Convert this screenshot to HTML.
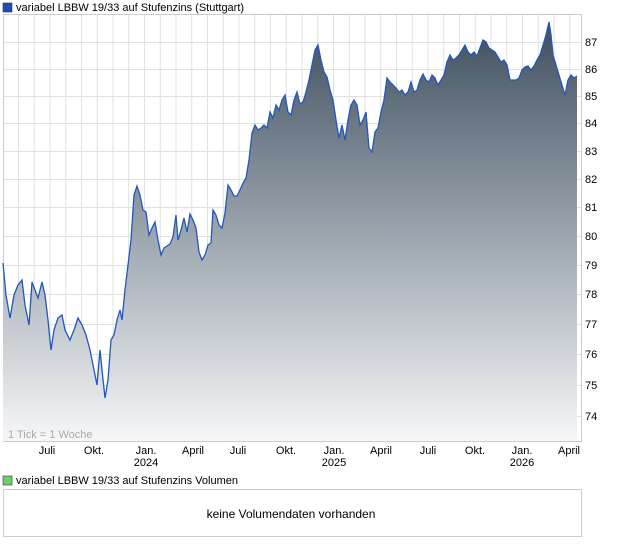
<!DOCTYPE html>
<html><head><meta charset="utf-8"><style>
body{margin:0;background:#fff;font-family:"Liberation Sans",sans-serif;}
svg{position:absolute;left:0;top:0}
</style></head><body>
<svg width="620" height="546" xmlns="http://www.w3.org/2000/svg" font-family="Liberation Sans, sans-serif" font-size="11">
<defs><linearGradient id="g" gradientUnits="userSpaceOnUse" x1="0" y1="20" x2="0" y2="441">
<stop offset="0" stop-color="#3f4e5d"/><stop offset="0.5" stop-color="#9aa4ad"/><stop offset="1" stop-color="#f6f7f8"/></linearGradient></defs>
<rect x="3" y="3" width="9" height="9" fill="#1f4fb4" stroke="#333" stroke-width="0.6"/>
<text x="16" y="11">variabel LBBW 19/33 auf Stufenzins (Stuttgart)</text>
<rect x="3.5" y="14.5" width="578" height="427" fill="#fff" stroke="#ccc"/>
<g stroke="#e0e0e0" stroke-width="1" id="vg"></g>
<g stroke="#e0e0e0">
<line x1="3" x2="581" y1="42.5" y2="42.5"/><line x1="3" x2="581" y1="69.5" y2="69.5"/><line x1="3" x2="581" y1="96.5" y2="96.5"/><line x1="3" x2="581" y1="123.5" y2="123.5"/><line x1="3" x2="581" y1="151.5" y2="151.5"/><line x1="3" x2="581" y1="179.5" y2="179.5"/><line x1="3" x2="581" y1="207.5" y2="207.5"/><line x1="3" x2="581" y1="236.5" y2="236.5"/><line x1="3" x2="581" y1="265.5" y2="265.5"/><line x1="3" x2="581" y1="294.5" y2="294.5"/><line x1="3" x2="581" y1="324.5" y2="324.5"/><line x1="3" x2="581" y1="354.5" y2="354.5"/><line x1="3" x2="581" y1="385.5" y2="385.5"/><line x1="3" x2="581" y1="416.5" y2="416.5"/>
</g>
<path id="area" fill="url(#g)" d=""/>
<path id="line" fill="none" stroke="#2356c0" stroke-width="1.3" d=""/>
<text x="8" y="438" fill="#aaa">1 Tick = 1 Woche</text>
<g fill="#000">
<text x="585" y="46">87</text><text x="585" y="73">86</text><text x="585" y="100">85</text><text x="585" y="127">84</text><text x="585" y="155">83</text><text x="585" y="183">82</text><text x="585" y="211">81</text><text x="585" y="240">80</text><text x="585" y="269">79</text><text x="585" y="298">78</text><text x="585" y="328">77</text><text x="585" y="358">76</text><text x="585" y="389">75</text><text x="585" y="420">74</text>
</g>
<g text-anchor="middle">
<text x="47" y="454">Juli</text><text x="94" y="454">Okt.</text><text x="146" y="454">Jan.</text><text x="146" y="466">2024</text><text x="193" y="454">April</text><text x="238" y="454">Juli</text><text x="286" y="454">Okt.</text><text x="334" y="454">Jan.</text><text x="334" y="466">2025</text><text x="381" y="454">April</text><text x="428" y="454">Juli</text><text x="475" y="454">Okt.</text><text x="522" y="454">Jan.</text><text x="522" y="466">2026</text><text x="569" y="454">April</text>
</g>
<rect x="3" y="476" width="9" height="9" fill="#6fcf6f" stroke="#333" stroke-width="0.6"/>
<text x="16" y="484">variabel LBBW 19/33 auf Stufenzins Volumen</text>
<rect x="3.5" y="489.5" width="578" height="47" fill="#fff" stroke="#ccc"/>
<text x="291" y="518" text-anchor="middle" font-size="12">keine Volumendaten vorhanden</text>
</svg>
<script>
var vg=document.getElementById('vg'),s='';
for(var x=18.5;x<581;x+=15.75){s+='<line x1="'+x+'" x2="'+x+'" y1="15" y2="441"/>';}
vg.innerHTML=s;
var p="3,263 6,295 10,318 14,295 18,285 22,280 25,305 29,325 32,282 35,290 38,298 42,282 45,295 48,320 51,350 54,330 58,318 62,315 65,330 70,340 74,330 78,318 82,325 86,335 90,350 94,370 97,385 100,350 102,370 105,398 108,380 111,340 114,335 117,320 120,310 122,320 125,290 128,265 131,240 134,195 137,186 140,195 143,210 146,212 149,235 152,228 155,222 158,240 161,255 164,248 167,246 170,244 173,237 176,215 178,240 181,230 184,218 187,232 190,214 193,220 196,228 199,252 202,260 205,255 208,245 211,243 213,210 216,215 219,225 222,228 225,213 228,185 231,190 234,196 237,196 240,190 243,183 246,178 249,160 252,133 255,125 258,130 261,128 264,125 267,128 270,112 273,118 276,105 279,110 282,100 285,95 288,112 291,115 294,100 297,92 300,104 303,102 306,92 309,80 312,65 315,50 318,45 321,60 324,72 327,77 330,90 333,100 336,120 339,138 342,125 345,140 348,120 351,105 354,100 357,105 360,125 363,120 366,112 369,148 372,152 375,132 378,128 381,112 384,100 387,78 390,82 393,85 396,88 399,92 402,90 405,95 408,92 411,82 414,92 417,90 420,80 423,74 426,80 429,82 432,75 435,78 438,85 441,80 444,75 447,62 450,55 453,60 456,58 459,55 462,50 465,45 468,52 471,55 474,52 477,56 480,48 483,40 486,42 489,48 492,50 495,52 498,57 501,62 504,60 507,65 510,80 513,80 516,80 519,78 522,70 525,67 528,66 531,70 534,66 537,60 540,55 543,45 546,35 549,22 551,35 553,55 556,65 559,75 562,85 565,95 568,80 571,75 574,78 577,76";
var d='M'+p.split(' ').join(' L');
document.getElementById('line').setAttribute('d',d);
document.getElementById('area').setAttribute('d',d+' L577,441 L3,441 Z');
</script>
</body></html>
